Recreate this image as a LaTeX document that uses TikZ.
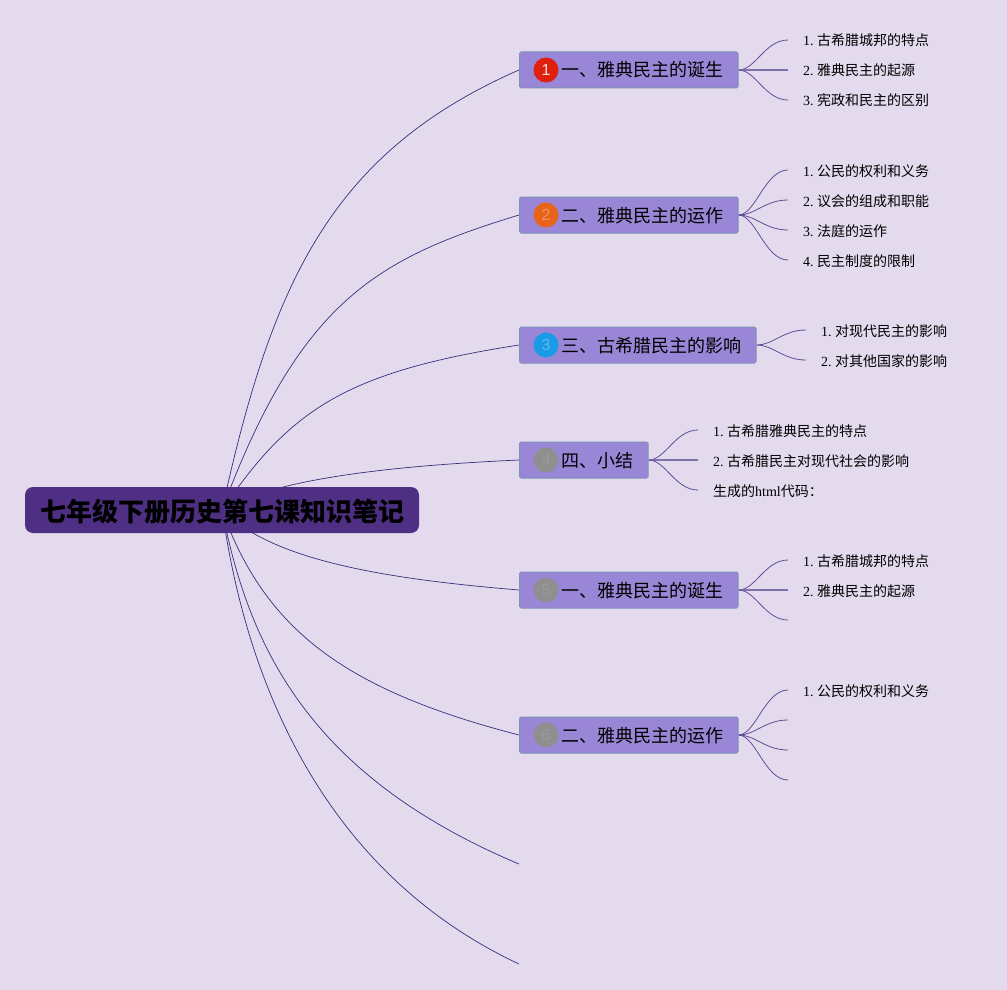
\documentclass[tikz,border=0pt]{standalone}
\usepackage{fontspec}
\usepackage{tikz}
\usetikzlibrary{backgrounds}
\setmainfont{Liberation Serif}
\newfontfamily\cjk{Noto Sans CJK SC}
\newfontfamily\digitfont{Liberation Sans}
\definecolor{bgcol}{HTML}{E3DAEE}
\definecolor{rootcol}{HTML}{4F2F83}
\definecolor{topiccol}{HTML}{9A86D6}
\definecolor{topicedge}{HTML}{7B93B8}
\definecolor{linecol}{HTML}{3D2C7C}
\definecolor{forkcol}{HTML}{5F4E96}
\definecolor{redcol}{HTML}{E0200F}
\definecolor{orangecol}{HTML}{E8641B}
\definecolor{bluecol}{HTML}{1A9BE6}
\definecolor{greycol}{HTML}{8F8F8F}
\begin{document}
\frenchspacing
\begin{tikzpicture}[x=1pt,y=-1pt,
root/.style = {fill=rootcol, rounded corners=8pt, minimum width=394pt, minimum height=46pt, inner sep=0pt, text height=24.5pt, text depth=1.5pt, font=\cjk\bfseries\fontsize{26}{30}\selectfont},
topic/.style = {draw=topicedge, fill=topiccol, line width=1pt, rounded corners=1.5pt, minimum height=36pt, inner xsep=14.5pt, inner ysep=0pt, text height=18pt, text depth=4pt, anchor=west, font=\cjk\fontsize{18}{22}\selectfont},
badge/.style = {circle, minimum size=25pt, inner sep=0pt, font=\digitfont\fontsize{16}{18}\selectfont},
leaf/.style = {anchor=west, inner xsep=15pt, inner ysep=0pt, text height=14pt, text depth=2pt, font=\fontsize{14}{18}\selectfont},
wire/.style = {draw=linecol, line width=0.7pt},
fork/.style = {draw=forkcol, line width=0.8pt},
forkmid/.style = {draw=forkcol!80!white, line width=1.2pt}]
\useasboundingbox (0,0) rectangle (1007,990);
\node[root] (r) at (222,510) {七年级下册历史第七课知识笔记};
\node[topic] (t1) at (519,70) {\hspace*{27.5pt}一、雅典民主的诞生};
\node[topic] (t2) at (519,215) {\hspace*{27.5pt}二、雅典民主的运作};
\node[topic] (t3) at (519,345) {\hspace*{27.5pt}三、古希腊民主的影响};
\node[topic] (t4) at (519,460) {\hspace*{27.5pt}四、小结};
\node[topic] (t5) at (519,590) {\hspace*{27.5pt}一、雅典民主的诞生};
\node[topic] (t6) at (519,735) {\hspace*{27.5pt}二、雅典民主的运作};
\coordinate (t7) at (519,864);
\coordinate (t8) at (519,964);
\node[badge, fill=redcol, text=white!85!redcol, xshift=27pt] (b1) at (t1.west) {1};
\node[badge, fill=orangecol, text=white!30!orangecol, xshift=27pt] (b2) at (t2.west) {2};
\node[badge, fill=bluecol, text=white!30!bluecol, xshift=27pt] (b3) at (t3.west) {3};
\node[badge, fill=greycol, text=white!10!greycol, xshift=27pt] (b4) at (t4.west) {4};
\node[badge, fill=greycol, text=white!10!greycol, xshift=27pt] (b5) at (t5.west) {5};
\node[badge, fill=greycol, text=white!10!greycol, xshift=27pt] (b6) at (t6.west) {6};
\node[leaf] (a1) at (788,40) {1. {\cjk 古希腊城邦的特点}};
\node[leaf] (a2) at (788,70) {2. {\cjk 雅典民主的起源}};
\node[leaf] (a3) at (788,100) {3. {\cjk 宪政和民主的区别}};
\node[leaf] (c1) at (788,170) {1. {\cjk 公民的权利和义务}};
\node[leaf] (c2) at (788,200) {2. {\cjk 议会的组成和职能}};
\node[leaf] (c3) at (788,230) {3. {\cjk 法庭的运作}};
\node[leaf] (c4) at (788,260) {4. {\cjk 民主制度的限制}};
\node[leaf] (d1) at (806,330) {1. {\cjk 对现代民主的影响}};
\node[leaf] (d2) at (806,360) {2. {\cjk 对其他国家的影响}};
\node[leaf] (e1) at (698,430) {1. {\cjk 古希腊雅典民主的特点}};
\node[leaf] (e2) at (698,460) {2. {\cjk 古希腊民主对现代社会的影响}};
\node[leaf] (e3) at (698,490) {{\cjk 生成的}html{\cjk 代码：}};
\node[leaf] (f1) at (788,560) {1. {\cjk 古希腊城邦的特点}};
\node[leaf] (f2) at (788,590) {2. {\cjk 雅典民主的起源}};
\coordinate (f3) at (788,620);
\node[leaf] (g1) at (788,690) {1. {\cjk 公民的权利和义务}};
\coordinate (g2) at (788,720);
\coordinate (g3) at (788,750);
\coordinate (g4) at (788,780);
\begin{pgfonlayer}{background}
\fill[bgcol] (0,0) rectangle (1007,990);
\draw[wire] (r.center) .. controls (271.5,285) and (329.5,153) .. (t1.west);
\draw[wire] (r.center) .. controls (300,300) and (378,258) .. (t2.west);
\draw[wire] (r.center) .. controls (290,410) and (345,372) .. (t3.west);
\draw[wire] (r.center) .. controls (273,479.5) and (387,466) .. (t4.west);
\draw[wire] (r.center) .. controls (273,561) and (387,579) .. (t5.west);
\draw[wire] (r.center) .. controls (265,630) and (345,690) .. (t6.west);
\draw[wire] (r.center) .. controls (248,642) and (305,774) .. (t7);
\draw[wire] (r.center) .. controls (235,596) and (278,851) .. (t8);
\draw[fork] (t1.east) .. controls +(17,0) and +(-23,0) .. (a1.west);
\draw[forkmid] (t1.east) -- (a2.west);
\draw[fork] (t1.east) .. controls +(17,0) and +(-23,0) .. (a3.west);
\draw[fork] (t2.east) .. controls +(17,0) and +(-23,0) .. (c1.west);
\draw[fork] (t2.east) .. controls +(17,0) and +(-23,0) .. (c2.west);
\draw[fork] (t2.east) .. controls +(17,0) and +(-23,0) .. (c3.west);
\draw[fork] (t2.east) .. controls +(17,0) and +(-23,0) .. (c4.west);
\draw[fork] (t3.east) .. controls +(17,0) and +(-23,0) .. (d1.west);
\draw[fork] (t3.east) .. controls +(17,0) and +(-23,0) .. (d2.west);
\draw[fork] (t4.east) .. controls +(17,0) and +(-23,0) .. (e1.west);
\draw[forkmid] (t4.east) -- (e2.west);
\draw[fork] (t4.east) .. controls +(17,0) and +(-23,0) .. (e3.west);
\draw[fork] (t5.east) .. controls +(17,0) and +(-23,0) .. (f1.west);
\draw[forkmid] (t5.east) -- (f2.west);
\draw[fork] (t5.east) .. controls +(17,0) and +(-23,0) .. (f3);
\draw[fork] (t6.east) .. controls +(17,0) and +(-23,0) .. (g1.west);
\draw[fork] (t6.east) .. controls +(17,0) and +(-23,0) .. (g2);
\draw[fork] (t6.east) .. controls +(17,0) and +(-23,0) .. (g3);
\draw[fork] (t6.east) .. controls +(17,0) and +(-23,0) .. (g4);
\end{pgfonlayer}
\end{tikzpicture}
\end{document}
